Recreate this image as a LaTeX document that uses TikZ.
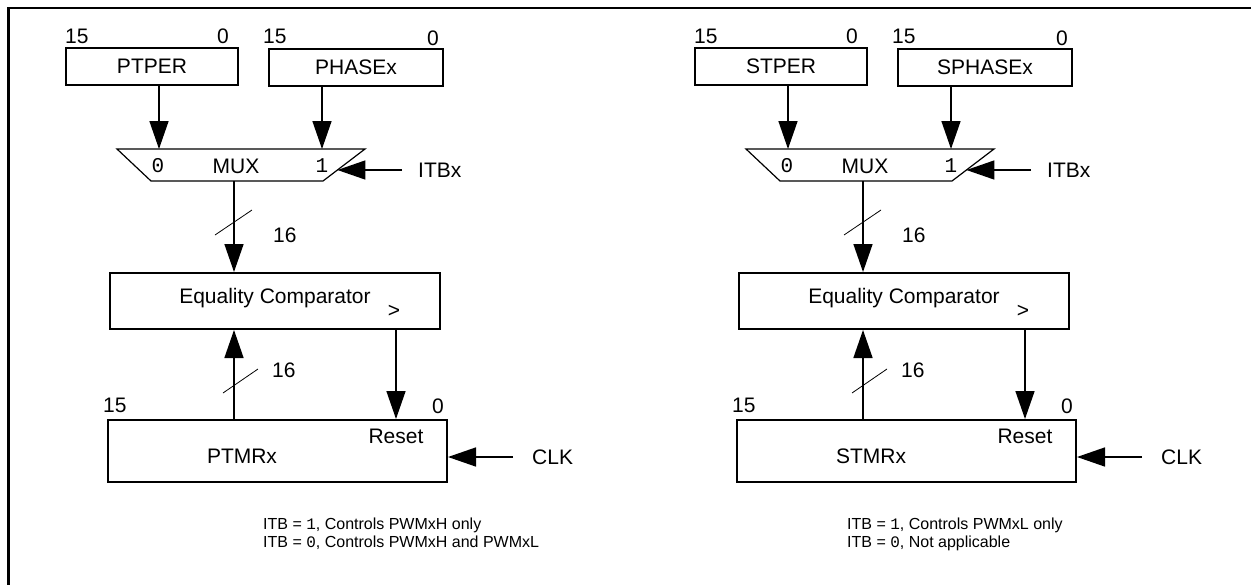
\documentclass[tikz,border=0pt]{standalone}
\usepackage{fontspec}
\setmainfont{Liberation Sans}
\setmonofont{Liberation Mono}
\usetikzlibrary{arrows.meta}

\begin{document}
\begin{tikzpicture}[x=1pt,y=-1pt,>={Triangle[length=28pt,width=19pt]},
  every node/.style={font=\fontsize{21}{25}\selectfont,inner sep=0pt},
  mono/.style={font=\fontsize{21}{25}\selectfont\ttfamily},
  note/.style={font=\fontsize{16}{18}\selectfont,align=left,anchor=west},
  reg/.style={draw,line width=2pt,anchor=north west},
  sig/.style={line width=1.5pt,->},
  bus/.style={line width=0.8pt}]
  \useasboundingbox (0,0) rectangle (1251,584);
  %
  % Frame
  \draw[line width=2.5pt] (8.5,600) -- (8.5,8) -- (1270,8);
  %
  % Two time bases, the second one shifted to the right
  \foreach \dx/\per/\pha/\tmr in {0/PTPER/PHASEx/PTMRx,629/STPER/SPHASEx/STMRx}{
  \begin{scope}[shift={(\dx,0)}]
    % Period and phase registers
    \node[reg,minimum width=172pt,minimum height=37pt] (per) at (65,47) {\per};
    \node[reg,minimum width=174pt,minimum height=37pt] (pha) at (268,48) {\pha};
    \node[anchor=base west] at ([yshift=4pt]per.north west) {15};
    \node[anchor=base east] at ([xshift=-10pt,yshift=4pt]per.north east) {0};
    \node[anchor=base west] at ([xshift=-5pt,yshift=5pt]pha.north west) {15};
    \node[anchor=base east] at ([xshift=-5pt,yshift=3pt]pha.north east) {0};
    %
    % Multiplexer
    \coordinate (in0) at (159,149);
    \coordinate (in1) at (322,149);
    \coordinate (sel) at (337.4,170);
    \coordinate (out) at (234,181);
    \draw[line width=1.2pt] (117,149) -- (365,149) -- (323,181) -- (151,181) -- cycle;
    \node[mono] at (158,166) {0};
    \node (mux) at (236,166) {MUX};
    \node[mono] at (322,166) {1};
    \node[anchor=west] (itb) at (418,170) {ITBx};
    \draw[sig] (in0 |- per.south) -- (in0);
    \draw[sig] (in1 |- pha.south) -- (in1);
    \draw[sig] ([xshift=-16pt]itb.west) -- (sel);
    %
    % Comparator
    \node[reg,minimum width=330pt,minimum height=56pt] (cmp) at (109,272) {};
    \node at (275,298) {Equality Comparator};
    \node at (394,311) {>};
    \draw[sig] (out) -- (out |- cmp.north);
    \draw[bus] (215,235) -- (252,210);
    \node[anchor=west] at (273,235) {16};
    %
    % Timer
    \node[reg,minimum width=339pt,minimum height=62pt] (tmr) at (107,419) {};
    \node (rst) at (396,436) {Reset};
    \node at (242,456) {\tmr};
    \node[anchor=base west] at (103,412) {15};
    \node[anchor=base west] at (432,413) {0};
    \draw[sig] (out |- tmr.north) -- (out |- cmp.south);
    \draw[bus] (223,393) -- (258,369);
    \node[anchor=west] at (272,370) {16};
    \draw[sig] (rst |- cmp.south) -- (rst |- tmr.north);
    \node[anchor=west] (clk) at (532,457) {CLK};
    \draw[sig] ([xshift=-19pt]clk.west) -- (tmr.east |- clk.west);
  \end{scope}}
  %
  % Notes
  \node[note] at (263,534) {ITB = \texttt{1}, Controls PWMxH only\\ITB = \texttt{0}, Controls PWMxH and PWMxL};
  \node[note] at (847,534) {ITB = \texttt{1}, Controls PWMxL only\\ITB = \texttt{0}, Not applicable};
\end{tikzpicture}
\end{document}
